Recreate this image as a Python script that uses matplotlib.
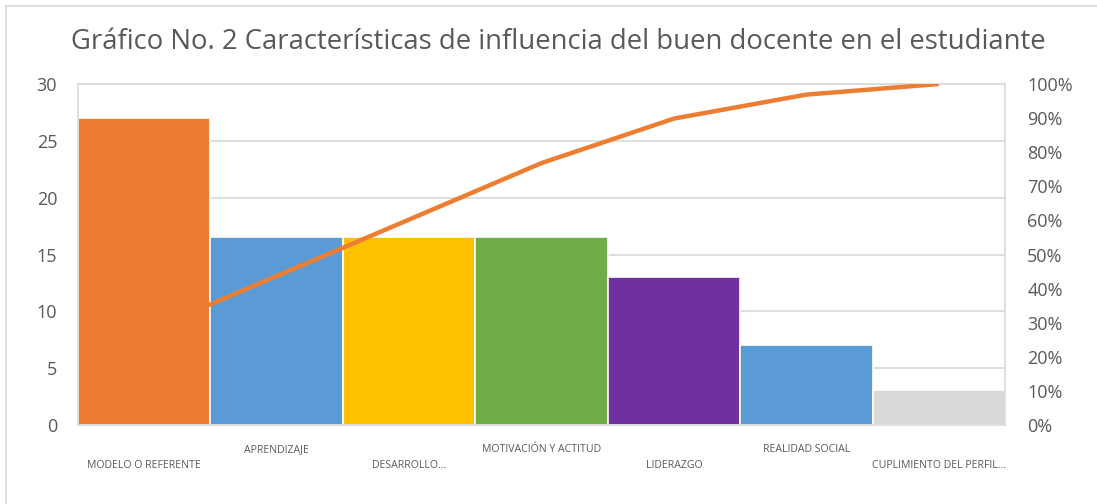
import matplotlib
matplotlib.use("Agg")
import matplotlib.pyplot as plt
from matplotlib.ticker import FuncFormatter
import numpy as np

categories = ["MODELO O REFERENTE", "APRENDIZAJE", "DESARROLLO...", "MOTIVACIÓN Y ACTITUD",
              "LIDERAZGO", "REALIDAD SOCIAL", "CUPLIMIENTO DEL PERFIL..."]
values = [27, 16.5, 16.5, 16.5, 13, 7, 3.1]
bar_colors = ["#ED7D31", "#5B9BD5", "#FFC000", "#70AD47", "#7030A0", "#5B9BD5", "#D9D9D9"]
title = "Gráfico No. 2 Características de influencia del buen docente en el estudiante"

cum_pct = np.cumsum(values) / np.sum(values) * 100

plt.rcParams['font.family'] = ['Open Sans', 'DejaVu Sans']
txt = "#595959"
grid = "#D9D9D9"

fig = plt.figure(figsize=(10.97, 5.04), dpi=100)
ax = fig.add_axes([78/1097, 1-425/504, (1005-78)/1097, (425-84)/504])
x = np.arange(len(categories))
ax.bar(x, values, width=1.0, color=bar_colors, edgecolor="white", linewidth=1.2, zorder=2)
ax.set_xlim(-0.5, len(categories)-0.5)
ax.set_ylim(0, 30)
ax.set_yticks(np.arange(0, 31, 5))
ax.yaxis.grid(True, color=grid, linewidth=1.2, zorder=0)
ax.set_axisbelow(True)
for s in ax.spines.values():
    s.set_color(grid)
    s.set_linewidth(1.2)
ax.tick_params(axis='y', length=0, pad=15, labelsize=13, labelcolor=txt)
ax.set_xticks(x)
ax.set_xticklabels([])
ax.tick_params(axis='x', length=0)
for i, c in enumerate(categories):
    yoff = -(466-425)/341 if i % 2 == 0 else -(450-425)/341
    ax.text(i, yoff, c, transform=ax.get_xaxis_transform(), ha='center', va='center',
            fontsize=7.6, color=txt)

ax2 = ax.twinx()
ax2.plot(x, cum_pct, color="#ED7D31", linewidth=3.2, zorder=3, solid_capstyle='butt')
ax2.set_ylim(0, 100)
ax2.set_yticks(np.arange(0, 101, 10))
ax2.yaxis.set_major_formatter(FuncFormatter(lambda v, p: f"{int(v)}%"))
ax2.tick_params(axis='y', length=0, pad=16, labelsize=13, labelcolor=txt)
for s in ax2.spines.values():
    s.set_visible(False)

fig.text(558/1097, 1-42/504, title, ha='center', va='center', fontsize=19.8, color=txt)

# outer chart border (top/left visible)
fig.add_artist(plt.Line2D([6/1097, 6/1097], [0, 1-6/504], color=grid, linewidth=1.2))
fig.add_artist(plt.Line2D([6/1097, 1], [1-6/504, 1-6/504], color=grid, linewidth=1.2))

fig.savefig("out.png", dpi=100)
